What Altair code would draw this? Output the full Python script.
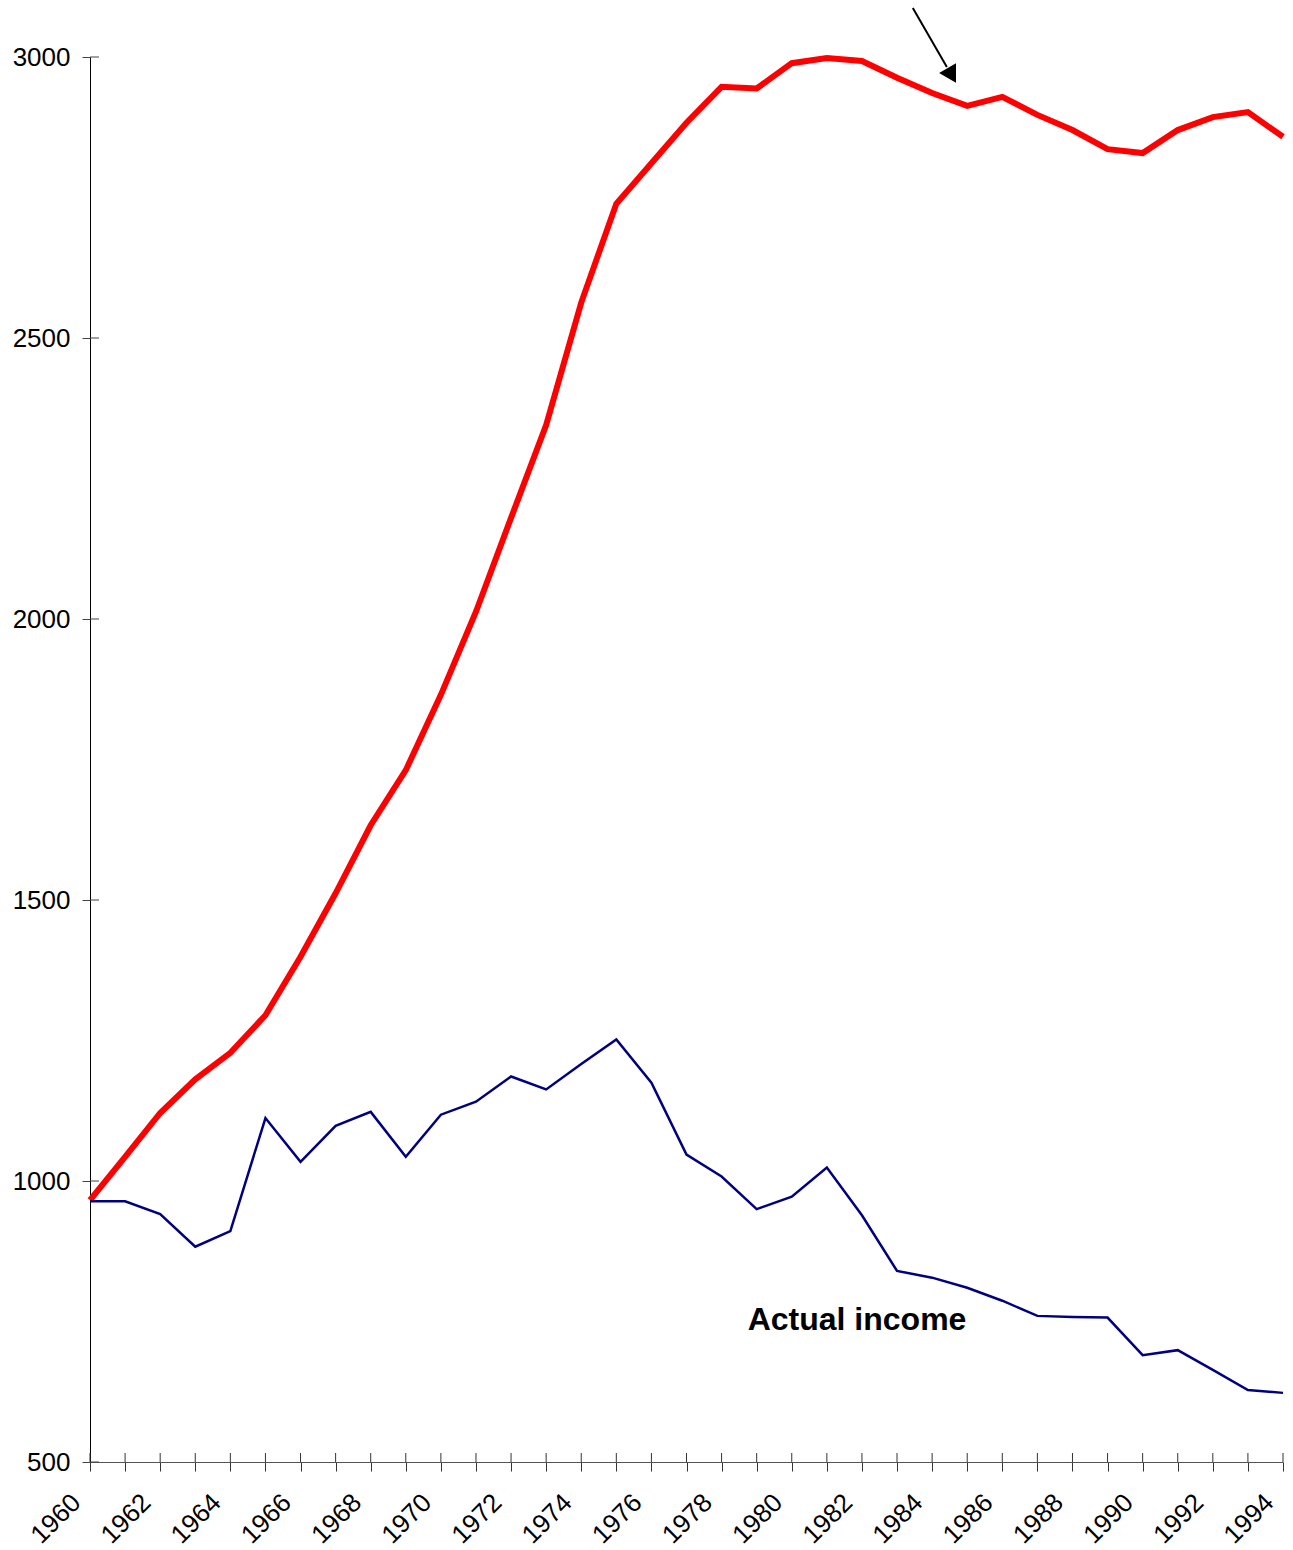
import altair as alt
import pandas as pd

# Yearly series, 1960-1994
years = list(range(1960, 1995))
potential_income = [966, 1043, 1121, 1181, 1228, 1295, 1399, 1512, 1633, 1731,
                    1865, 2013, 2180, 2345, 2563, 2739, 2811, 2883, 2947, 2944,
                    2989, 2998, 2993, 2963, 2936, 2913, 2929, 2897, 2870, 2836,
                    2829, 2870, 2893, 2902, 2858]
actual_income = [964, 964, 941, 883, 911, 1112, 1034, 1098, 1123, 1043,
                 1118, 1141, 1186, 1163, 1208, 1252, 1175, 1047, 1008, 950,
                 972, 1024, 939, 840, 828, 810, 787, 760, 758, 757,
                 690, 699, 664, 628, 623]

y_ticks = [500, 1000, 1500, 2000, 2500, 3000]

# Annotation: label for the lower series and an arrow pointing at the upper one
label_text = ["Actual income"]
label_year = [1981.86]
label_value = [753]
arrow_from = (1983.45, 3087)
arrow_to = (1984.42, 2982)
arrow_tip_center = (1984.56, 2967)

W, H = 1193, 1405
FONT = "Liberation Sans"

potential_df = pd.DataFrame({"year": years, "value": potential_income})
actual_df = pd.DataFrame({"year": years, "value": actual_income})
xticks_df = pd.DataFrame({"year": years})
yticks_df = pd.DataFrame({"value": y_ticks})
label_df = pd.DataFrame({"year": label_year, "value": label_value, "text": label_text})
arrow_df = pd.DataFrame({"year": [arrow_from[0]], "value": [arrow_from[1]],
                         "year_end": [arrow_to[0]], "value_end": [arrow_to[1]]})
head_df = pd.DataFrame({"year": [arrow_tip_center[0]], "value": [arrow_tip_center[1]]})

x_scale = alt.Scale(domain=[1960, 1994], nice=False, zero=False)
y_scale = alt.Scale(domain=[500, 3000], nice=False, zero=False)

x_axis = alt.Axis(
    values=years, format="d",
    labelExpr="datum.value % 2 === 0 ? datum.label : ''",
    labelAngle=-45, labelAlign="right", labelBaseline="middle",
    labelPadding=27, labelOffset=-14, labelFlush=False, labelOverlap=False,
    tickSize=9, tickColor="#333333", domainColor="#555555",
    title=None, grid=False,
)
y_axis = alt.Axis(
    values=y_ticks, format="d",
    labelAlign="right", labelBaseline="middle", labelPadding=12,
    tickSize=8, tickColor="#444444", domainColor="#000000",
    title=None, grid=False, labelFlush=False, labelOverlap=False,
)


def xenc(field="year"):
    return alt.X(f"{field}:Q", scale=x_scale, axis=x_axis)


def yenc(field="value"):
    return alt.Y(f"{field}:Q", scale=y_scale, axis=y_axis)


potential_line = alt.Chart(potential_df).mark_line(
    color="#FF0000", strokeWidth=6
).encode(x=xenc(), y=yenc())

actual_line = alt.Chart(actual_df).mark_line(
    color="#000080", strokeWidth=2.5
).encode(x=xenc(), y=yenc())

# Inner halves of the cross ticks on both axes
x_inner_ticks = alt.Chart(xticks_df).mark_rule(color="#333333", strokeWidth=1).encode(
    x=xenc(),
    y=alt.value(H - 9),
    y2=alt.value(H),
)
y_inner_ticks = alt.Chart(yticks_df).mark_rule(color="#444444", strokeWidth=1).encode(
    y=yenc(),
    x=alt.value(0),
    x2=alt.value(9),
)

label = alt.Chart(label_df).mark_text(
    font=FONT, fontSize=32, fontWeight="bold", color="black",
    align="center", baseline="middle",
).encode(x=xenc(), y=yenc(), text="text:N")

arrow_shaft = alt.Chart(arrow_df).mark_rule(color="black", strokeWidth=2).encode(
    x=xenc(), x2="year_end:Q",
    y=yenc(), y2="value_end:Q",
)
arrow_head = alt.Chart(head_df).mark_point(
    shape="triangle-up", filled=True, color="black", opacity=1,
    size=380, angle=150,
).encode(x=xenc(), y=yenc())

chart = alt.layer(
    potential_line, actual_line, x_inner_ticks, y_inner_ticks,
    label, arrow_shaft, arrow_head,
).properties(
    width=W, height=H,
    autosize=alt.AutoSizeParams(type="none"),
    padding={"left": 90, "top": 57, "right": 10, "bottom": 88},
    background="white",
).configure_view(
    stroke=None
).configure_axis(
    labelFont=FONT, labelFontSize=26, labelColor="black",
)

chart.save("out.html", embed_options={"renderer": "svg", "actions": False})
